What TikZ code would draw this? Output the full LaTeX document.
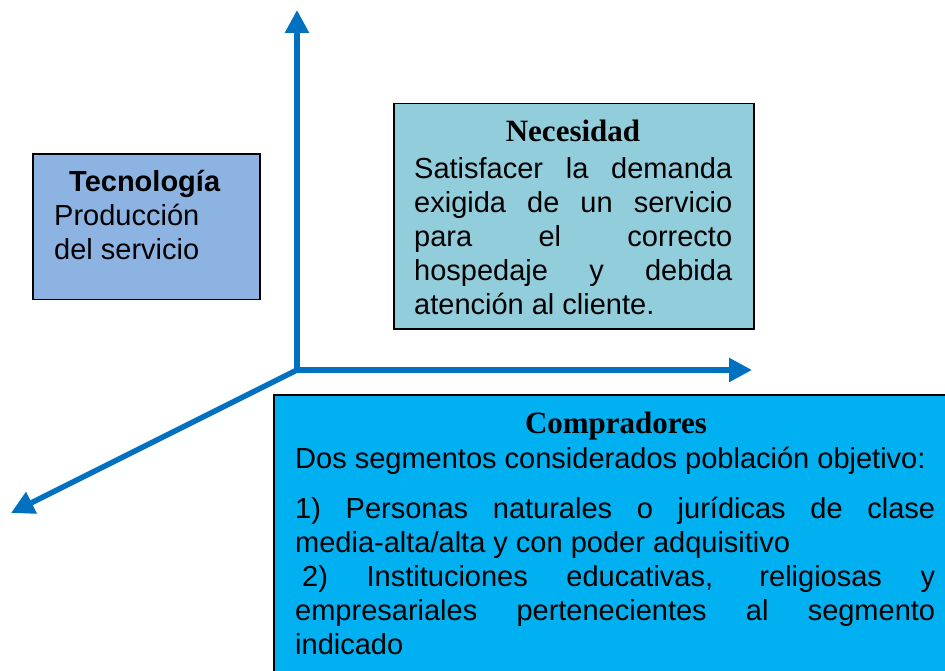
\documentclass[tikz,border=0pt]{standalone}
\usepackage{fontspec}
\setmainfont{Liberation Sans}
\newfontfamily\titrefont{Liberation Serif}
\usetikzlibrary{arrows.meta}
\definecolor{bleuaxe}{RGB}{0,112,192}
\definecolor{bleutec}{RGB}{141,179,226}
\definecolor{bleunec}{RGB}{146,205,220}
\definecolor{bleucomp}{RGB}{0,176,240}

\begin{document}
\begin{tikzpicture}[x=1pt,y=-1pt, % 1 unité = 1 pixel, y vers le bas
  cadre/.style={draw=black,line width=1.5pt,anchor=north west,inner sep=0pt},
  corps/.style={anchor=base west,inner sep=0pt,align=justify,font=\fontsize{29}{34}\selectfont},
  titre/.style={anchor=base,inner sep=0pt,font=\titrefont\bfseries\fontsize{31}{34}\selectfont},
  axe/.style={color=bleuaxe,line width=5.5pt,-{Triangle[length=23pt,width=23pt]}}]
\useasboundingbox (0,0) rectangle (945,671); % cadre de l'image
\coordinate (o) at (297,370); % origine des axes
\coordinate (haut) at (297,10);
\coordinate (droite) at (752,370);
\coordinate (gauche) at (11,513);
\draw[axe,shorten <=-2.75pt] (o)--(haut); % axe vertical
\draw[axe,shorten <=-2.75pt] (o)--(droite); % axe horizontal
\draw[axe] (o)--(gauche); % axe oblique
% Tecnologia
\node[cadre,fill=bleutec,minimum width=227pt,minimum height=145pt] (tec) at (32,153.5) {};
\node[corps,text width=195pt] (tectxt) at (54,192) {\hspace*{15pt}\textbf{Tecnología}\\Producción\\del servicio};
% Necesidad
\node[cadre,fill=bleunec,minimum width=360pt,minimum height=225pt] (nec) at (393,103) {};
\node[titre] (nectit) at (573,142) {Necesidad};
\node[corps,text width=318pt] (nectxt) at (414,179) {Satisfacer la demanda\linebreak exigida de un servicio\linebreak para el correcto\linebreak hospedaje y debida\linebreak atención al cliente.};
% Compradores
\node[cadre,fill=bleucomp,minimum width=700pt,minimum height=300pt] (comp) at (273,394) {};
\node[titre] (comptit) at (616,433) {Compradores};
\node[corps,text width=640pt] (comptxt) at (295,468) {Dos segmentos considerados población objetivo:\par\vspace{16pt}1) Personas naturales o jurídicas de clase\linebreak media-alta/alta y con poder adquisitivo\\\hspace*{7pt}2) Instituciones educativas, religiosas y\linebreak empresariales pertenecientes al segmento\linebreak indicado};
\end{tikzpicture}
\end{document}
